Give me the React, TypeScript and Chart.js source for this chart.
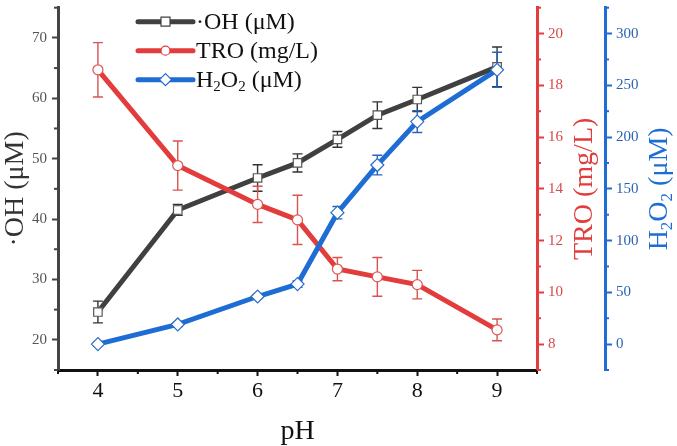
import React, { useEffect, useRef } from "react";
import { Chart, registerables, Plugin } from "chart.js";

Chart.register(...registerables);

const phValues = [4, 5, 6, 6.5, 7, 7.5, 8, 9];
const ohValues = [24.6, 41.5, 46.8, 49.3, 53.2, 57.2, 59.8, 65.2];
const ohErrors = [1.8, 0.9, 2.2, 1.5, 1.3, 2.2, 2.0, 3.3];
const troValues = [18.6, 14.9, 13.4, 12.8, 10.9, 10.6, 10.3, 8.55];
const troErrors = [1.05, 0.95, 0.7, 0.95, 0.45, 0.75, 0.55, 0.42];
const h2o2Values = [0, 19, 46, 58, 127, 173, 215, 265];
const h2o2Errors = [2, 2, 2, 3, 6, 9.5, 10.5, 17];

// tick labels
const xTicks = [4, 5, 6, 7, 8, 9];
const ohTicks = [20, 30, 40, 50, 60, 70];
const troTicks = [8, 10, 12, 14, 16, 18, 20];
const h2o2Ticks = [0, 50, 100, 150, 200, 250, 300];
const xMinor = [3.5, 4.5, 5.5, 6.5, 7.5, 8.5, 9.5];
const ohMinor = [15, 25, 35, 45, 55, 65, 75];
const troMinor = [7, 9, 11, 13, 15, 17, 19, 21];
const h2o2Minor = [-25, 25, 75, 125, 175, 225, 275, 325];

const SERIF = "'Liberation Serif', 'Times New Roman', serif";
const BLACK = "#404040";
const RED = "#e23c3c";
const BLUE = "#1d6dd4";
const RED_TXT = "#d44a4a";
const BLUE_TXT = "#2c63b3";

const errorSets = [
  { values: ohValues, errors: ohErrors, axis: "y", color: "#333333" },
  { values: troValues, errors: troErrors, axis: "y1", color: "#d9534f" },
  { values: h2o2Values, errors: h2o2Errors, axis: "y2", color: "#2464c0" },
];

const errorBarPlugin: Plugin = {
  id: "errorBars",
  beforeDatasetsDraw(chart) {
    const ctx = chart.ctx;
    const xs = chart.scales.x;
    ctx.save();
    errorSets.forEach((set) => {
      const ys = chart.scales[set.axis];
      ctx.strokeStyle = set.color;
      ctx.lineWidth = 1.4;
      set.values.forEach((v, i) => {
        const px = xs.getPixelForValue(phValues[i]);
        const top = ys.getPixelForValue(v + set.errors[i]);
        const bot = ys.getPixelForValue(v - set.errors[i]);
        ctx.beginPath();
        ctx.moveTo(px, top);
        ctx.lineTo(px, bot);
        ctx.moveTo(px - 5, top);
        ctx.lineTo(px + 5, top);
        ctx.moveTo(px - 5, bot);
        ctx.lineTo(px + 5, bot);
        ctx.stroke();
      });
    });
    ctx.restore();
  },
};

const minorTicks: { id: string; values: number[]; color: string }[] = [
  { id: "x", values: xMinor, color: "#111" },
  { id: "y", values: ohMinor, color: "#444" },
  { id: "y1", values: troMinor, color: RED },
  { id: "y2", values: h2o2Minor, color: BLUE },
];

const minorTickPlugin: Plugin = {
  id: "minorTicks",
  afterDraw(chart) {
    const ctx = chart.ctx;
    ctx.save();
    ctx.lineWidth = 2;
    minorTicks.forEach((m) => {
      const s = chart.scales[m.id];
      ctx.strokeStyle = m.color;
      m.values.forEach((v) => {
        const p = s.getPixelForValue(v);
        ctx.beginPath();
        if (m.id === "x") {
          ctx.moveTo(p, s.top);
          ctx.lineTo(p, s.top + 4);
        } else if (m.id === "y") {
          ctx.moveTo(s.right, p);
          ctx.lineTo(s.right - 4, p);
        } else {
          ctx.moveTo(s.left, p);
          ctx.lineTo(s.left + 4, p);
        }
        ctx.stroke();
      });
    });
    ctx.restore();
  },
};

// draws text pieces (with optional subscripts) on one baseline, centred at cx
function drawParts(ctx: CanvasRenderingContext2D, parts: [string, boolean][], cx: number, y: number, size: number, align: "left" | "center") {
  const big = `${size}px ${SERIF}`;
  const small = `${Math.round(size * 0.62)}px ${SERIF}`;
  let total = 0;
  parts.forEach(([t, sub]) => {
    ctx.font = sub ? small : big;
    total += ctx.measureText(t).width;
  });
  let x = align === "center" ? cx - total / 2 : cx;
  ctx.textAlign = "left";
  parts.forEach(([t, sub]) => {
    ctx.font = sub ? small : big;
    ctx.fillText(t, x, sub ? y + size * 0.28 : y);
    x += ctx.measureText(t).width;
  });
}

const rightTitles: { id: string; parts: [string, boolean][]; color: string; offset: number }[] = [
  { id: "y1", parts: [["TRO (mg/L)", false]], color: RED, offset: 20 },
  { id: "y2", parts: [["H", false], ["2", true], ["O", false], ["2", true], [" (μM)", false]], color: BLUE, offset: 17 },
];

const rightTitlePlugin: Plugin = {
  id: "rightTitles",
  afterDraw(chart) {
    const ctx = chart.ctx;
    rightTitles.forEach((t) => {
      const s = chart.scales[t.id];
      ctx.save();
      ctx.translate(s.right - t.offset, (s.top + s.bottom) / 2);
      ctx.rotate(-Math.PI / 2);
      ctx.fillStyle = t.color;
      ctx.textBaseline = "middle";
      drawParts(ctx, t.parts, 0, 0, 28, "center");
      ctx.restore();
    });
  },
};

function drawMarker(ctx: CanvasRenderingContext2D, kind: string, x: number, y: number, r: number, stroke: string) {
  ctx.beginPath();
  if (kind === "rect") {
    ctx.rect(x - r, y - r, 2 * r, 2 * r);
  } else if (kind === "circle") {
    ctx.arc(x, y, r, 0, Math.PI * 2);
  } else {
    ctx.moveTo(x, y - r);
    ctx.lineTo(x + r, y);
    ctx.lineTo(x, y + r);
    ctx.lineTo(x - r, y);
    ctx.closePath();
  }
  ctx.fillStyle = "#fff";
  ctx.fill();
  ctx.strokeStyle = stroke;
  ctx.lineWidth = 1.2;
  ctx.stroke();
}

const legendPlugin: Plugin = {
  id: "insideLegend",
  afterDraw(chart) {
    const ctx = chart.ctx;
    const { left, top } = chart.chartArea;
    const x0 = left + 80;
    const x1 = x0 + 55;
    const rows = [
      { color: BLACK, kind: "rect", r: 4.5, y: top + 14 },
      { color: RED, kind: "circle", r: 4.5, y: top + 43 },
      { color: BLUE, kind: "diamond", r: 6, y: top + 72 },
    ];
    ctx.save();
    rows.forEach((row) => {
      ctx.strokeStyle = row.color;
      ctx.lineWidth = 5;
      ctx.lineCap = "round";
      ctx.beginPath();
      ctx.moveTo(x0, row.y);
      ctx.lineTo(x1, row.y);
      ctx.stroke();
      ctx.lineCap = "butt";
      drawMarker(ctx, row.kind, (x0 + x1) / 2, row.y, row.r, row.color);
    });
    ctx.fillStyle = "#111";
    ctx.textBaseline = "middle";
    const tx = x1 + 3;
    drawParts(ctx, [["·OH (μM)", false]], tx, rows[0].y + 1, 24, "left");
    drawParts(ctx, [["TRO (mg/L)", false]], tx, rows[1].y + 1, 24, "left");
    drawParts(ctx, [["H", false], ["2", true], ["O", false], ["2", true], [" (μM)", false]], tx, rows[2].y + 1, 24, "left");
    ctx.restore();
  },
};

const fixTicks = (values: number[]) => (scale: any) => {
  scale.ticks = values.map((v) => ({ value: v }));
};

const App: React.FC = () => {
  const canvasRef = useRef<HTMLCanvasElement>(null);
  const chartRef = useRef<Chart | null>(null);

  useEffect(() => {
    if (!canvasRef.current) return;
    if (chartRef.current) chartRef.current.destroy();

    const makeData = (vals: number[]) => vals.map((v, i) => ({ x: phValues[i], y: v }));

    chartRef.current = new Chart(canvasRef.current, {
      type: "line",
      data: {
        datasets: [
          {
            label: "·OH (μM)",
            data: makeData(ohValues),
            yAxisID: "y",
            borderColor: BLACK,
            borderWidth: 5,
            pointStyle: "rect",
            pointRadius: 6,
            pointBackgroundColor: "#fff",
            pointBorderColor: "#555",
            pointBorderWidth: 1.2,
            order: 3,
          },
          {
            label: "TRO (mg/L)",
            data: makeData(troValues),
            yAxisID: "y1",
            borderColor: RED,
            borderWidth: 5,
            pointStyle: "circle",
            pointRadius: 5,
            pointBackgroundColor: "#fff",
            pointBorderColor: "#e05555",
            pointBorderWidth: 1.2,
            order: 2,
          },
          {
            label: "H2O2 (μM)",
            data: makeData(h2o2Values),
            yAxisID: "y2",
            borderColor: BLUE,
            borderWidth: 5,
            pointStyle: "rectRot",
            pointRadius: 6.5,
            pointBackgroundColor: "#fff",
            pointBorderColor: "#2a6cc8",
            pointBorderWidth: 1.2,
            order: 1,
          },
        ],
      },
      options: {
        animation: false,
        responsive: true,
        maintainAspectRatio: false,
        layout: { padding: { top: 3, left: 0, right: 0, bottom: 0 } },
        plugins: {
          legend: { display: false },
          tooltip: { enabled: false },
        },
        scales: {
          x: {
            type: "linear",
            position: "bottom",
            min: 3.5,
            max: 9.5,
            afterBuildTicks: fixTicks(xTicks),
            afterFit: (s: any) => {
              s.height = 76;
              s.paddingLeft = 0;
              s.paddingRight = 0;
            },
            ticks: { font: { family: SERIF, size: 22 }, color: "#111", padding: 2, maxRotation: 0, autoSkip: false },
            grid: { drawOnChartArea: false, drawTicks: true, tickLength: 6, tickWidth: 2, tickColor: "#111" },
            border: { color: "#111", width: 3 },
            title: { display: true, text: "pH", font: { family: SERIF, size: 28, lineHeight: 1 }, color: "#111", padding: 0 },
          },
          y: {
            type: "linear",
            position: "left",
            min: 15,
            max: 75,
            afterBuildTicks: fixTicks(ohTicks),
            afterFit: (s: any) => {
              s.width = 58;
              s.paddingTop = 0;
              s.paddingBottom = 0;
            },
            ticks: { font: { family: SERIF, size: 15 }, color: "#555", padding: 5, autoSkip: false },
            grid: { drawOnChartArea: false, drawTicks: true, tickLength: 6, tickWidth: 2, tickColor: "#444" },
            border: { color: "#444", width: 3 },
            title: { display: true, text: "·OH (μM)", font: { family: SERIF, size: 28, lineHeight: 1.1 }, color: "#333", padding: 0 },
          },
          y1: {
            type: "linear",
            position: "right",
            min: 7,
            max: 21,
            afterBuildTicks: fixTicks(troTicks),
            afterFit: (s: any) => {
              s.width = 68;
              s.paddingTop = 0;
              s.paddingBottom = 0;
            },
            ticks: { font: { family: SERIF, size: 15 }, color: RED_TXT, padding: 4, autoSkip: false },
            grid: { drawOnChartArea: false, drawTicks: true, tickLength: 7, tickWidth: 2, tickColor: RED },
            border: { color: RED, width: 3 },
          },
          y2: {
            type: "linear",
            position: "right",
            min: -25,
            max: 325,
            afterBuildTicks: fixTicks(h2o2Ticks),
            afterFit: (s: any) => {
              s.width = 72;
              s.paddingTop = 0;
              s.paddingBottom = 0;
            },
            ticks: { font: { family: SERIF, size: 15 }, color: BLUE_TXT, padding: 4, autoSkip: false },
            grid: { drawOnChartArea: false, drawTicks: true, tickLength: 7, tickWidth: 2, tickColor: BLUE },
            border: { color: BLUE, width: 3 },
          },
        },
      },
      plugins: [errorBarPlugin, minorTickPlugin, rightTitlePlugin, legendPlugin],
    });

    return () => {
      if (chartRef.current) {
        chartRef.current.destroy();
        chartRef.current = null;
      }
    };
  }, []);

  return (
    <div style={{ position: "fixed", left: 0, top: 0, width: 677, height: 446, background: "#fff" }}>
      <canvas ref={canvasRef} />
    </div>
  );
};

export default App;
